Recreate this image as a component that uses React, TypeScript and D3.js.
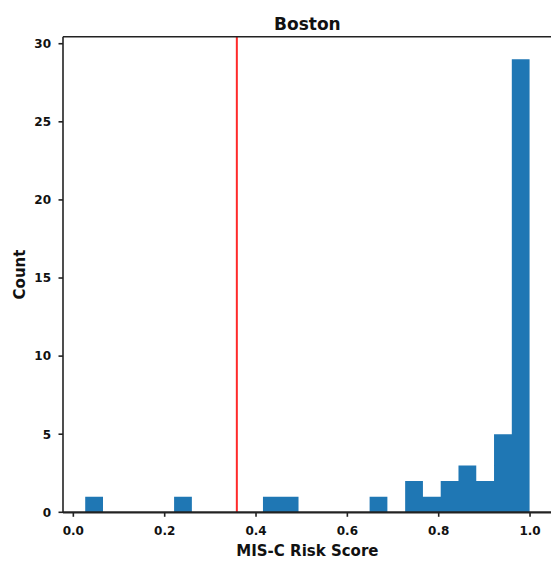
import React from "react";
import * as d3 from "d3";

// Histogram data (25 bins between dataMin and dataMax)
const dataMin = 0.026;
const dataMax = 0.999;
const binCounts = [1, 0, 0, 0, 0, 1, 0, 0, 0, 0, 1, 1, 0, 0, 0, 0, 1, 0, 2, 1, 2, 3, 2, 5, 29];
const threshold = 0.358;
const xTicks = [0, 0.2, 0.4, 0.6, 0.8, 1.0];
const yTicks = [0, 5, 10, 15, 20, 25, 30];
const title = "Boston";
const xLabel = "MIS-C Risk Score";
const yLabel = "Count";

export default function App() {
  const W = 551, H = 563;
  const left = 63, right = 551.8, top = 36.7, bottom = 512.3;
  const nb = binCounts.length;
  const bw = (dataMax - dataMin) / nb;
  const margin = (dataMax - dataMin) * 0.05;
  const x = d3.scaleLinear().domain([dataMin - margin, dataMax + margin]).range([left, right]);
  const yMax = d3.max(binCounts)! * 1.05;
  const y = d3.scaleLinear().domain([0, yMax]).range([bottom, top]);
  const font = "DejaVu Sans, sans-serif";
  const pts = binCounts.map((c, i) => ({ x: dataMin + i * bw, c }));
  pts.push({ x: dataMax, c: binCounts[nb - 1] });
  const area = d3.area<{ x: number; c: number }>()
    .x(d => x(d.x))
    .y0(y(0))
    .y1(d => y(d.c))
    .curve(d3.curveStepAfter);
  return (
    <svg width={W} height={H} style={{ position: "absolute", left: 0, top: 0, background: "#fff" }} fontFamily={font}>
      <rect x={0} y={0} width={W} height={H} fill="#fff" />
      <path d={area(pts) || ""} fill="#1f77b4" />
      <line x1={x(threshold)} x2={x(threshold)} y1={top} y2={bottom} stroke="#ff2a2a" strokeWidth={2} />
      {/* spines */}
      <line x1={left} x2={left} y1={top} y2={bottom} stroke="#222" strokeWidth={1.6} />
      <line x1={left} x2={right} y1={top} y2={top} stroke="#222" strokeWidth={1.6} />
      <line x1={left} x2={right} y1={bottom} y2={bottom} stroke="#222" strokeWidth={2.2} />
      <line x1={right} x2={right} y1={top} y2={bottom} stroke="#222" strokeWidth={1.6} />
      {xTicks.map((t, i) => (
        <g key={i}>
          <line x1={x(t)} x2={x(t)} y1={bottom} y2={bottom + 4.5} stroke="#222" strokeWidth={1.6} />
          <text x={x(t)} y={535} textAnchor="middle" fontSize={12} fontWeight="bold" fill="#111">{t.toFixed(1)}</text>
        </g>
      ))}
      {yTicks.map((t, i) => (
        <g key={i}>
          <line x1={left - 4.5} x2={left} y1={y(t)} y2={y(t)} stroke="#222" strokeWidth={1.6} />
          <text x={51} y={y(t)} dy="0.36em" textAnchor="end" fontSize={12} fontWeight="bold" fill="#111">{t}</text>
        </g>
      ))}
      <text x={(left + right) / 2} y={30} textAnchor="middle" fontSize={17} fontWeight="bold" fill="#111">{title}</text>
      <text x={(left + right) / 2} y={556} textAnchor="middle" fontSize={15} fontWeight="bold" fill="#111">{xLabel}</text>
      <text transform={`translate(25, ${(top + bottom) / 2}) rotate(-90)`} textAnchor="middle" fontSize={15} fontWeight="bold" fill="#111">{yLabel}</text>
    </svg>
  );
}
